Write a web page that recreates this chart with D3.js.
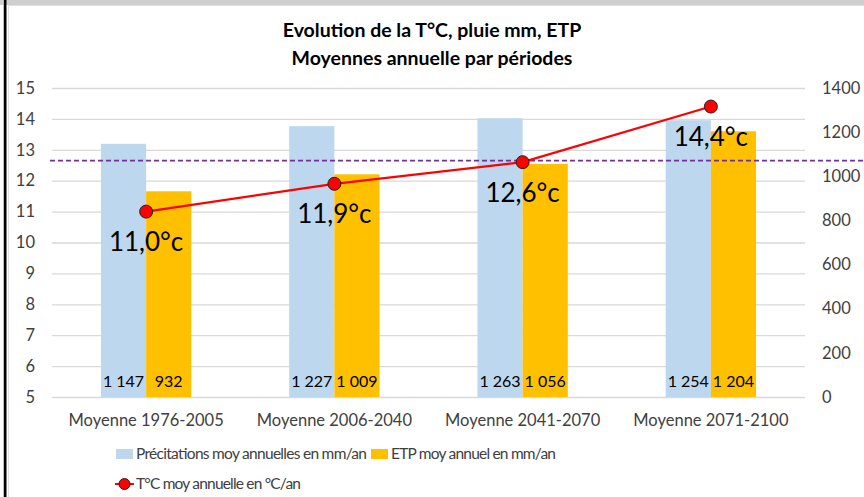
<!DOCTYPE html>
<html>
<head>
<meta charset="utf-8">
<script src="https://cdn.jsdelivr.net/npm/d3@7"></script>
<style>
  body { margin: 0; background: #fff; }
  svg { display: block; font-family: Lato, "Liberation Sans", sans-serif; }
</style>
</head>
<body>
<svg width="864" height="497"></svg>
<script>
// données
const periodes = ["Moyenne 1976-2005", "Moyenne 2006-2040", "Moyenne 2041-2070", "Moyenne 2071-2100"];
const pluie = [1147, 1227, 1263, 1254];
const etp = [932, 1009, 1056, 1204];
const temp = [11.0, 11.9, 12.6, 14.4];
const tempRef = 12.65; // ligne pointillée violette
const ticksGauche = [5, 6, 7, 8, 9, 10, 11, 12, 13, 14, 15];
const ticksDroite = [0, 200, 400, 600, 800, 1000, 1200, 1400];

const fmt = v => d3.format(",")(v).replace(/,/g, " ");

const svg = d3.select("svg");

// cadre (bord du classeur)
svg.append("rect").attr("x", 0).attr("y", 0).attr("width", 864).attr("height", 5).attr("fill", "#cfcfcf");
svg.append("line").attr("x1", 8).attr("x2", 864).attr("y1", 5.5).attr("y2", 5.5).attr("stroke", "#e0e0e0");
svg.append("rect").attr("x", 3).attr("y", 0).attr("width", 1).attr("height", 497).attr("fill", "#bbb");
svg.append("rect").attr("x", 4).attr("y", 0).attr("width", 2.5).attr("height", 497).attr("fill", "#000");
svg.append("line").attr("x1", 8.5).attr("x2", 8.5).attr("y1", 5).attr("y2", 497).attr("stroke", "#e0e0e0");

// titre
const titre = svg.append("text").attr("text-anchor", "middle")
    .attr("font-weight", "bold").attr("font-size", 19.5).attr("fill", "#000");
titre.append("tspan").attr("x", 432).attr("y", 37).text("Evolution de la T°C, pluie mm, ETP");
titre.append("tspan").attr("x", 432).attr("y", 65).text("Moyennes annuelle par périodes");

const gx0 = 52, gx1 = 805, gy0 = 88, gy1 = 397;

const x = d3.scaleBand().domain(periodes).range([gx0, gx1]).paddingInner(0.52).paddingOuter(0.26);
const yL = d3.scaleLinear().domain([5, 15]).range([gy1, gy0]);
const yR = d3.scaleLinear().domain([0, 1400]).range([gy1, gy0]);

// quadrillage
svg.append("g").selectAll("line").data(ticksGauche).join("line")
    .attr("x1", gx0).attr("x2", gx1)
    .attr("y1", d => yL(d) + 0.5).attr("y2", d => yL(d) + 0.5)
    .attr("stroke", "#d9d9d9").attr("stroke-width", 1.3);

// axes
const axeG = svg.append("g").attr("transform", `translate(${gx0 - 17},0)`)
    .call(d3.axisLeft(yL).tickValues(ticksGauche).tickSize(0).tickPadding(0));
const axeD = svg.append("g").attr("transform", `translate(${gx1 + 17},0)`)
    .call(d3.axisRight(yR).tickValues(ticksDroite).tickFormat(d3.format("d")).tickSize(0).tickPadding(0));
const axeX = svg.append("g").attr("transform", `translate(0,${gy1 + 15})`)
    .call(d3.axisBottom(x).tickSize(0).tickPadding(0));
[axeG, axeD, axeX].forEach(a => {
  a.select(".domain").remove();
  a.selectAll("text").attr("font-size", 16.5).attr("fill", "#404040")
      .style("font-family", "Lato, 'Liberation Sans', sans-serif");
});
axeX.selectAll("text").attr("dy", "0.85em");

// barres
const bw = x.bandwidth() / 2;
const series = [
  { vals: pluie, color: "#bdd7ee", off: 0 },
  { vals: etp, color: "#ffc000", off: bw }
];
series.forEach(s => {
  const g = svg.append("g");
  g.selectAll("rect").data(periodes).join("rect")
      .attr("x", d => x(d) + s.off).attr("width", bw)
      .attr("y", (d, i) => yR(s.vals[i])).attr("height", (d, i) => gy1 - yR(s.vals[i]))
      .attr("fill", s.color);
  g.selectAll("text").data(periodes).join("text")
      .attr("x", d => x(d) + s.off + bw / 2).attr("y", gy1 - 10)
      .attr("text-anchor", "middle").attr("font-size", 16).attr("fill", "#000")
      .text((d, i) => fmt(s.vals[i]));
});

// ligne pointillée
svg.append("line").attr("x1", 50).attr("x2", 864)
    .attr("y1", yL(tempRef)).attr("y2", yL(tempRef))
    .attr("stroke", "#7030a0").attr("stroke-width", 1.6).attr("stroke-dasharray", "5,3");

// température
const cx = d => x(d) + x.bandwidth() / 2;
svg.append("path").datum(periodes)
    .attr("d", d3.line().x(cx).y((d, i) => yL(temp[i])))
    .attr("fill", "none").attr("stroke", "#ff0000").attr("stroke-width", 2.2);
svg.append("g").selectAll("circle").data(periodes).join("circle")
    .attr("cx", cx).attr("cy", (d, i) => yL(temp[i])).attr("r", 6.5)
    .attr("fill", "#ff0000").attr("stroke", "#222").attr("stroke-width", 1);
svg.append("g").selectAll("text").data(periodes).join("text")
    .attr("x", cx).attr("y", (d, i) => yL(temp[i]) + 39.5)
    .attr("text-anchor", "middle").attr("font-size", 26).attr("fill", "#000")
    .text((d, i) => d3.format(".1f")(temp[i]).replace(".", ",") + "°c");

// légende
const leg = svg.append("g").attr("font-size", 15.5).attr("fill", "#404040");
leg.append("rect").attr("x", 116).attr("y", 449).attr("width", 17).attr("height", 10).attr("fill", "#bdd7ee");
leg.append("text").attr("x", 136).attr("y", 459).attr("textLength", 231).text("Précitations moy annuelles en mm/an");
leg.append("rect").attr("x", 371).attr("y", 449).attr("width", 17).attr("height", 10).attr("fill", "#ffc000");
leg.append("text").attr("x", 391).attr("y", 459).attr("textLength", 165).text("ETP moy annuel en mm/an");
leg.append("line").attr("x1", 115).attr("x2", 134).attr("y1", 484).attr("y2", 484)
    .attr("stroke", "#ff0000").attr("stroke-width", 2);
leg.append("circle").attr("cx", 124.5).attr("cy", 484).attr("r", 5.5)
    .attr("fill", "#ff0000").attr("stroke", "#222").attr("stroke-width", 1);
leg.append("text").attr("x", 136).attr("y", 489).attr("textLength", 165).text("T°C moy annuelle en °C/an");
</script>
</body>
</html>
